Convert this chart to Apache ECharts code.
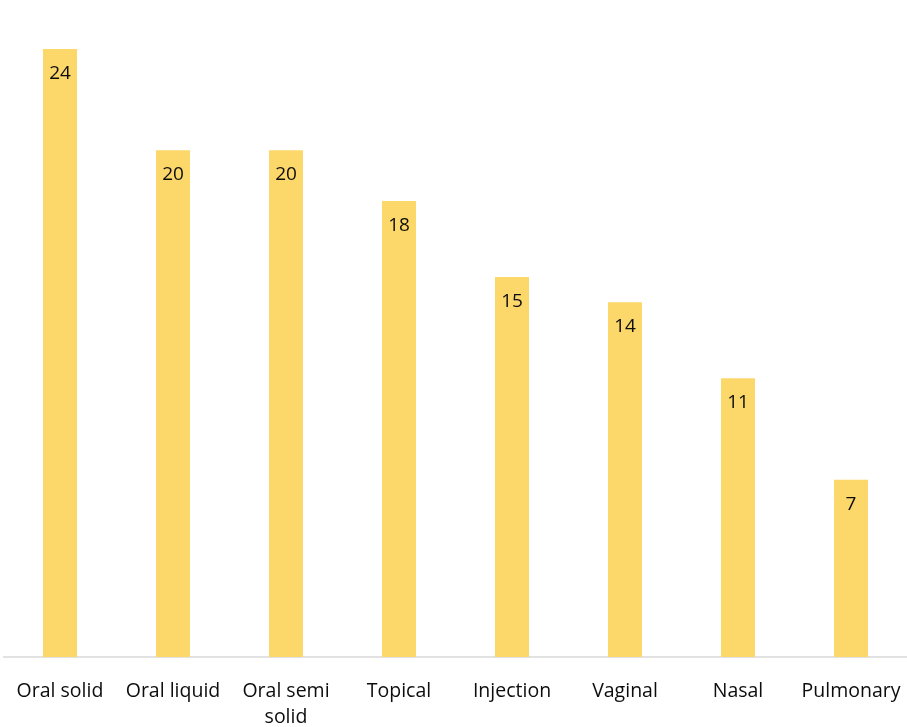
<!DOCTYPE html>
<html>
<head>
<meta charset="utf-8">
<script src="https://cdn.jsdelivr.net/npm/echarts@6/dist/echarts.min.js"></script>
<style>
  html, body { margin: 0; padding: 0; background: #fff; }
  #chart { width: 907px; height: 727px; }
</style>
</head>
<body>
<div id="chart"></div>
<script>
// Dosage form categories and their counts
const categories = ['Oral solid', 'Oral liquid', 'Oral semi\nsolid', 'Topical', 'Injection', 'Vaginal', 'Nasal', 'Pulmonary'];
const counts = [24, 20, 20, 18, 15, 14, 11, 7];

const chart = echarts.init(document.getElementById('chart'));
chart.setOption({
  animation: false,
  backgroundColor: '#ffffff',
  grid: { left: 3.5, right: -0.5, top: 49, bottom: 70, containLabel: false, outerBoundsMode: 'none' },
  xAxis: {
    type: 'category',
    data: categories,
    axisLine: { show: true, lineStyle: { color: '#D9D9D9', width: 1.5 } },
    axisTick: { show: false },
    axisLabel: {
      color: '#0d0d0d',
      fontFamily: 'Open Sans',
      fontSize: 19.5,
      margin: 21,
      lineHeight: 26,
      interval: 0
    }
  },
  yAxis: {
    type: 'value',
    min: 0,
    max: 24,
    show: false,
    splitLine: { show: false }
  },
  series: [{
    type: 'bar',
    data: counts,
    barWidth: 34,
    itemStyle: { color: '#FCD769' },
    label: {
      show: true,
      position: 'insideTop',
      distance: 15,
      color: '#0d0d0d',
      fontFamily: 'Open Sans',
      fontSize: 19
    }
  }]
});
</script>
</body>
</html>
